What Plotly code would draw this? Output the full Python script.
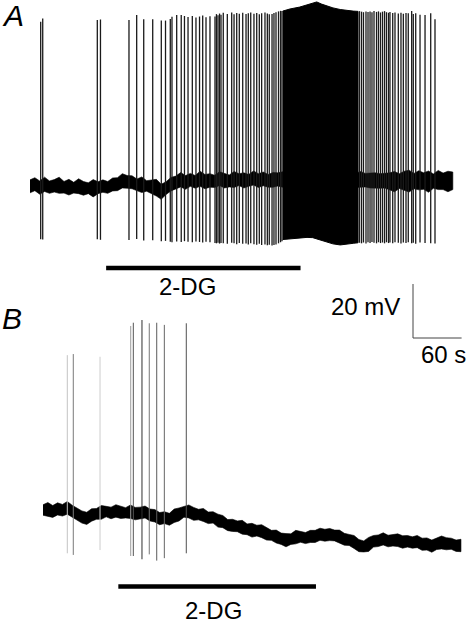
import plotly.graph_objects as go

# ---------------- DATA (time in s, membrane potential in mV) ----------------
# Panel A: baseline sampled every 6 s
a_time = list(range(0, 523, 6))
a_center = [
    -60.4, -60.2, -60.5, -60.3, -60.4, -60.6, -60.5, -60.8, -60.7, -60.9,
    -60.8, -61.0, -61.2, -61.3, -61.0, -60.7, -60.5, -60.3, -59.7, -59.0,
    -58.6, -59.4, -60.0, -60.1, -60.4, -60.8, -61.2, -61.6, -61.3, -60.2,
    -58.9, -58.6, -58.8, -58.5, -58.6, -58.3, -58.5, -58.7, -58.4, -58.2,
    -58.4, -58.5, -58.3, -58.1, -58.3, -58.2, -58.0, -58.2, -58.1, -58.3,
    -58.2, -58.0, -58.1, -58.3, -58.2, -58.0, -58.1, -58.2, -58.3, -58.1,
    -58.0, -58.2, -58.3, -58.1, -58.2, -58.4, -58.2, -58.3, -58.1, -58.2,
    -58.4, -58.5, -58.4, -58.6, -58.7, -58.9, -58.6, -58.5, -58.8, -58.6,
    -58.4, -58.7, -58.9, -58.6, -58.4, -58.7, -58.9, -58.6]
a_noise_up = [
    2.3, 2.9, 2.0, 3.2, 1.9, 2.6, 3.4, 2.1, 2.8, 1.9,
    3.1, 2.3, 2.0, 3.3, 2.2, 2.6, 1.8, 2.9, 2.4, 3.2,
    2.1, 2.8, 2.2, 3.1, 2.0, 2.6, 3.3, 1.9, 2.5, 3.0,
    2.2, 3.2, 2.3, 2.8, 2.1, 3.4, 2.4, 2.9, 2.0, 3.1,
    2.6, 2.2, 3.3, 2.3, 2.8, 2.1, 3.2, 2.4, 2.9, 2.2,
    2.8, 2.5, 3.0, 2.6, 2.9, 2.4, 2.8, 3.1, 2.5, 2.9,
    2.6, 2.8, 2.4, 3.0, 2.8, 2.5, 2.9, 2.6, 3.1, 2.5,
    2.8, 3.0, 2.6, 2.9, 3.2, 3.9, 2.8, 3.6, 4.3, 2.9,
    3.7, 3.2, 4.1, 2.7, 3.8, 3.1, 4.0, 3.4]
a_noise_down = [
    2.5, 1.9, 2.9, 2.1, 2.7, 2.0, 2.6, 2.2, 3.0, 2.1,
    2.4, 2.8, 2.0, 3.1, 2.2, 2.0, 2.6, 1.9, 2.4, 2.1,
    2.6, 2.0, 2.2, 2.7, 1.9, 2.5, 2.9, 3.7, 2.2, 2.0,
    2.5, 2.1, 2.8, 2.0, 2.6, 2.2, 2.9, 2.1, 2.5, 2.0,
    2.7, 2.2, 2.6, 2.1, 2.8, 2.3, 2.0, 2.7, 2.2, 2.5,
    2.6, 2.4, 2.7, 2.5, 2.8, 2.3, 2.6, 2.7, 2.4, 2.6,
    2.7, 2.5, 2.6, 2.8, 2.4, 2.7, 2.5, 2.6, 2.8, 2.5,
    2.7, 2.6, 2.8, 2.5, 3.1, 3.6, 2.7, 3.3, 3.8, 2.8,
    3.4, 2.9, 3.8, 2.6, 3.3, 3.0, 3.6, 3.1]

# Panel A action potentials
a_spike_t = [
    13.2, 15.7, 83.1, 87.0, 122.2, 131.7, 140.4, 151.5, 162.1, 167.3,
    173.2, 175.3, 181.1, 186.7, 190.7, 195.1, 200.4, 204.9, 209.3, 213.2,
    217.3, 222.2, 228.4, 230.2, 232.1, 234.0, 235.8, 238.6, 243.6, 249.0,
    251.9, 255.2, 258.4, 262.6, 266.7, 269.5, 272.5, 276.5, 279.9, 283.1,
    286.0, 290.1, 293.0, 295.4, 298.8, 301.2, 303.7, 306.8, 309.3, 311.1,
    406.8, 409.3, 411.7, 414.8, 417.3, 419.8, 422.2, 424.7, 427.8, 430.2,
    432.7, 435.2, 437.7, 440.1, 442.6, 444.4, 447.8, 450.6, 454.7, 458.0,
    460.9, 464.2, 467.0, 471.2, 473.2, 476.2, 481.5, 487.7, 494.7, 500.0]
a_spike_peak = [
    0.5, 1.7, 1.1, 1.3, 1.1, 3.0, 1.4, 1.4, 0.9, 0.9,
    1.5, 2.3, 3.0, 3.0, 2.6, 2.2, 2.6, 2.0, 2.4, 2.8,
    2.1, 2.5, 2.4, 3.3, 2.9, 3.5, 3.1, 3.8, 3.3, 3.9,
    3.2, 3.7, 3.4, 3.8, 3.3, 3.6, 3.9, 3.4, 3.7, 3.2,
    3.6, 3.9, 3.5, 3.2, 3.3, 3.7, 4.0, 4.3, 4.5, 4.4,
    4.4, 4.2, 4.0, 4.3, 4.1, 4.3, 4.0, 4.4, 4.1, 4.3,
    3.9, 4.2, 4.4, 4.0, 3.8, 4.1, 3.7, 3.9, 3.5, 3.8,
    3.4, 3.7, 3.6, 4.4, 3.3, 3.6, 3.1, 3.0, 3.6, 1.4]
a_spike_trough = [
    -80.1, -80.2, -80.1, -80.3, -80.4, -80.0, -80.6, -80.5, -80.8, -80.7,
    -81.0, -81.2, -80.9, -81.1, -80.8, -81.0, -81.2, -80.9, -81.1, -81.3,
    -81.0, -81.2, -81.5, -81.6, -81.4, -81.7, -81.5, -81.6, -81.8, -81.4,
    -81.6, -81.9, -81.5, -81.8, -81.7, -82.0, -81.6, -81.9, -82.1, -81.8,
    -82.2, -82.0, -82.3, -82.1, -82.4, -82.2, -82.0, -81.6, -81.2, -80.8,
    -81.4, -81.6, -81.3, -81.7, -81.2, -81.5, -81.1, -81.4, -81.6, -81.2,
    -81.5, -81.3, -81.6, -81.2, -81.5, -81.3, -81.6, -81.2, -81.4, -81.7,
    -81.3, -81.5, -81.2, -81.6, -81.4, -81.8, -81.3, -81.5, -81.6, -81.7]

# Panel A: continuous high-frequency firing (envelope of the burst)
a_burst_t = [312, 321, 333, 342, 349, 354, 360, 367, 374, 383, 391, 399, 405]
a_burst_top = [4.4, 5.2, 5.9, 6.7, 7.4, 7.8, 7.0, 6.3, 5.6, 5.0, 4.6, 4.4, 4.3]
a_burst_bottom = [-80.2, -79.8, -79.6, -79.4, -79.5, -79.9, -80.5, -81.1,
                  -81.8, -82.2, -82.0, -81.6, -81.4]
a_drug_on_off = [94, 334]

# Panel B: baseline sampled every 6 s
b_time = list(range(0, 517, 6))
b_center = [
    -59.3, -59.2, -59.4, -59.1, -59.3, -59.0, -59.4, -61.0, -62.2, -61.9,
    -61.2, -60.7, -60.3, -60.0, -59.9, -59.8, -60.1, -60.3, -60.2, -60.4,
    -60.5, -60.4, -60.9, -61.5, -62.0, -62.4, -62.6, -61.8, -60.7, -59.9,
    -60.0, -60.6, -61.0, -61.4, -61.9, -62.3, -63.0, -63.8, -64.6, -65.0,
    -65.4, -65.8, -66.3, -66.6, -66.9, -67.3, -67.9, -68.6, -69.2, -69.9,
    -70.3, -70.0, -69.6, -69.4, -69.3, -69.2, -69.0, -68.6, -68.3, -68.4,
    -68.7, -69.2, -69.7, -70.5, -71.4, -72.3, -72.6, -71.8, -71.0, -70.5,
    -70.3, -70.4, -70.5, -70.6, -70.8, -71.0, -71.1, -71.4, -71.8, -72.0,
    -72.2, -71.9, -71.5, -71.5, -71.9, -72.3, -72.6]
b_noise_up = [
    2.0, 2.7, 1.8, 2.5, 2.1, 2.9, 1.9, 2.3, 2.6, 1.8,
    2.4, 2.0, 2.7, 2.1, 1.7, 2.5, 2.2, 1.9, 2.8, 2.1,
    2.3, 2.6, 2.0, 2.4, 1.8, 2.5, 2.1, 2.9, 2.2, 1.9,
    2.6, 2.3, 2.0, 2.7, 1.9, 2.4, 2.2, 2.5, 1.8, 2.3,
    2.1, 2.7, 1.9, 2.4, 2.0, 2.6, 2.2, 1.8, 2.5, 2.1,
    2.3, 1.9, 2.8, 2.1, 1.7, 2.4, 2.2, 2.6, 1.9, 2.3,
    2.0, 2.5, 1.8, 2.2, 2.7, 2.1, 1.9, 2.4, 2.3, 2.0,
    2.6, 1.8, 2.2, 2.5, 2.0, 2.3, 1.9, 2.7, 2.1, 2.4,
    1.8, 2.3, 2.6, 2.0, 2.2, 1.9, 2.5]
b_noise_down = [
    1.9, 2.3, 2.6, 2.0, 2.2, 1.8, 2.5, 2.1, 1.9, 2.7,
    2.2, 2.0, 2.4, 1.8, 2.6, 2.1, 2.3, 1.9, 2.2, 2.5,
    2.0, 1.8, 2.4, 2.2, 2.7, 1.9, 2.3, 2.1, 2.6, 2.0,
    2.2, 2.5, 1.9, 2.1, 2.4, 1.8, 2.6, 2.0, 2.3, 2.2,
    1.9, 2.4, 2.1, 2.7, 2.0, 2.2, 2.5, 1.9, 2.3, 2.1,
    2.6, 2.0, 2.2, 1.8, 2.4, 2.1, 2.3, 1.9, 2.5, 2.2,
    2.0, 2.3, 2.6, 1.9, 2.1, 2.4, 2.2, 2.8, 2.0, 2.3,
    1.9, 2.5, 2.1, 2.2, 2.6, 2.0, 2.3, 1.8, 2.4, 2.1,
    2.7, 2.0, 2.2, 2.5, 1.9, 2.3, 2.1]

# Panel B action potentials
b_spike_t = [30.0, 37.4, 70.4, 108.3, 111.5, 122.2, 131.2, 140.4, 149.8, 176.9]
b_spike_peak = [-1.9, -1.5, -2.5, 8.9, 10.1, 11.1, 9.9, 10.1, 9.3, 9.9]
b_spike_trough = [-75.3, -75.9, -74.1, -76.3, -76.3, -77.5, -75.7, -78.0, -77.1, -75.3]
b_spike_shade = ['#c4c4c4', '#7a7a7a', '#cdcdcd', '#9a9a9a', '#555555',
                 '#303030', '#777777', '#5a5a5a', '#666666', '#505050']
b_drug_on_off = [93, 337]

# Scale bar
scale_mV = 20
scale_s = 60
drug_label = "2-DG"

# ---------------- LAYOUT GEOMETRY ----------------
W, H = 468, 627
PX_PER_S = 0.81
PX_PER_MV = 2.7
REST = -60.0
A_ORIGIN = (30, 185)   # pixel where t=0, V=-60 in panel A
B_ORIGIN = (43, 512)   # pixel where t=0, V=-60 in panel B


def xrange_for(o):
    return [-o[0] / PX_PER_S, (W - o[0]) / PX_PER_S]


def yrange_for(o):
    return [REST - (H - o[1]) / PX_PER_MV, REST + o[1] / PX_PER_MV]


def v_at(o, py):
    return REST + (o[1] - py) / PX_PER_MV


def t_at(o, px):
    return (px - o[0]) / PX_PER_S


def band(t, c, up, dn):
    upper = [ci + u for ci, u in zip(c, up)]
    lower = [ci - d for ci, d in zip(c, dn)]
    return t + t[::-1], upper + lower[::-1]


def segments(ts, tops, bots):
    xs, ys = [], []
    for t, p, b in zip(ts, tops, bots):
        xs += [t, t, None]
        ys += [p, b, None]
    return xs, ys


fig = go.Figure()

# ---- Panel A ----
bx, by = band(a_time, a_center, a_noise_up, a_noise_down)
fig.add_trace(go.Scatter(x=bx, y=by, fill='toself', fillcolor='black',
                         line=dict(color='black', width=0.6), mode='lines',
                         xaxis='x', yaxis='y', hoverinfo='skip'))
sx, sy = segments(a_spike_t, a_spike_peak, a_spike_trough)
fig.add_trace(go.Scatter(x=sx, y=sy, mode='lines',
                         line=dict(color='#1a1a1a', width=1.3),
                         xaxis='x', yaxis='y', hoverinfo='skip'))
fig.add_trace(go.Scatter(x=a_burst_t + a_burst_t[::-1],
                         y=a_burst_top + a_burst_bottom[::-1],
                         fill='toself', fillcolor='black', mode='lines',
                         line=dict(color='black', width=1),
                         xaxis='x', yaxis='y', hoverinfo='skip'))
a_bar_v = v_at(A_ORIGIN, 268)
fig.add_trace(go.Scatter(x=a_drug_on_off, y=[a_bar_v, a_bar_v], mode='lines',
                         line=dict(color='black', width=4.5),
                         xaxis='x', yaxis='y', hoverinfo='skip'))

# ---- Panel B ----
bx, by = band(b_time, b_center, b_noise_up, b_noise_down)
fig.add_trace(go.Scatter(x=bx, y=by, fill='toself', fillcolor='black',
                         line=dict(color='black', width=0.6), mode='lines',
                         xaxis='x2', yaxis='y2', hoverinfo='skip'))
for t, p, b, c in zip(b_spike_t, b_spike_peak, b_spike_trough, b_spike_shade):
    fig.add_trace(go.Scatter(x=[t, t], y=[p, b], mode='lines',
                             line=dict(color=c, width=1),
                             xaxis='x2', yaxis='y2', hoverinfo='skip'))
b_bar_v = v_at(B_ORIGIN, 586.5)
fig.add_trace(go.Scatter(x=b_drug_on_off, y=[b_bar_v, b_bar_v], mode='lines',
                         line=dict(color='black', width=4.5),
                         xaxis='x2', yaxis='y2', hoverinfo='skip'))

# scale bar (panel B coordinates)
sb_t0 = t_at(B_ORIGIN, 413)
sb_v0 = v_at(B_ORIGIN, 338)
fig.add_trace(go.Scatter(x=[sb_t0, sb_t0, sb_t0 + scale_s],
                         y=[sb_v0 + scale_mV, sb_v0, sb_v0], mode='lines',
                         line=dict(color='#444444', width=1),
                         xaxis='x2', yaxis='y2', hoverinfo='skip'))

FAMILY = 'Liberation Sans, Arial, sans-serif'
font_txt = dict(family=FAMILY, size=24, color='black')
annotations = [
    dict(text='<i>A</i>', xref='paper', yref='paper', x=0.0, y=1 - 15 / H,
         xanchor='left', yanchor='middle', showarrow=False,
         font=dict(family=FAMILY, size=30, color='black')),
    dict(text='<i>B</i>', xref='paper', yref='paper', x=0.0, y=1 - 318 / H,
         xanchor='left', yanchor='middle', showarrow=False,
         font=dict(family=FAMILY, size=30, color='black')),
    dict(text=drug_label, xref='x', yref='y', x=t_at(A_ORIGIN, 187),
         y=v_at(A_ORIGIN, 286), xanchor='center', yanchor='middle',
         showarrow=False, font=font_txt),
    dict(text=drug_label, xref='x2', yref='y2', x=t_at(B_ORIGIN, 213),
         y=v_at(B_ORIGIN, 610), xanchor='center', yanchor='middle',
         showarrow=False, font=font_txt),
    dict(text=f'{scale_mV} mV', xref='x2', yref='y2', x=t_at(B_ORIGIN, 402),
         y=v_at(B_ORIGIN, 306), xanchor='right', yanchor='middle',
         showarrow=False, font=font_txt),
    dict(text=f'{scale_s} s', xref='x2', yref='y2', x=t_at(B_ORIGIN, 419),
         y=v_at(B_ORIGIN, 354), xanchor='left', yanchor='middle',
         showarrow=False, font=font_txt),
]

axis_common = dict(visible=False, showgrid=False, zeroline=False, fixedrange=True)
fig.update_layout(
    width=W, height=H,
    margin=dict(l=0, r=0, t=0, b=0),
    paper_bgcolor='white', plot_bgcolor='white',
    showlegend=False,
    xaxis=dict(domain=[0, 1], range=xrange_for(A_ORIGIN), anchor='y', **axis_common),
    yaxis=dict(domain=[0, 1], range=yrange_for(A_ORIGIN), anchor='x', **axis_common),
    xaxis2=dict(domain=[0, 1], range=xrange_for(B_ORIGIN), anchor='y2',
                overlaying='x', **axis_common),
    yaxis2=dict(domain=[0, 1], range=yrange_for(B_ORIGIN), anchor='x2',
                overlaying='y', **axis_common),
    annotations=annotations,
)

fig.write_html(
    "out.html",
    config={'displayModeBar': False, 'staticPlot': True},
    post_script="document.body.style.margin='0';document.body.style.overflow='hidden';",
)
